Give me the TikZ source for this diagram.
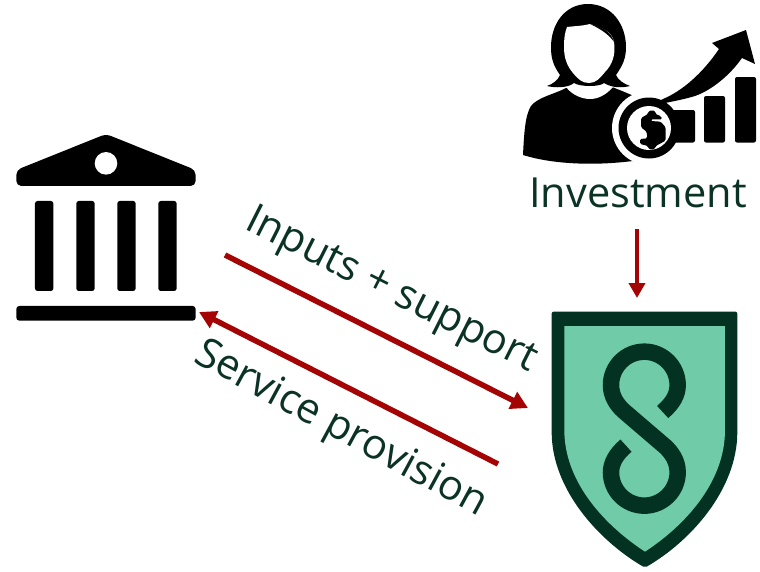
\documentclass[tikz,border=0pt]{standalone}
\usepackage{fontspec}
\setmainfont{Open Sans}
\usetikzlibrary{arrows.meta}
\definecolor{darkgreen}{HTML}{033222}
\definecolor{lightgreen}{HTML}{70CBA8}
\definecolor{arrowred}{HTML}{A50404}
\definecolor{labelgreen}{HTML}{0B3325}
\tikzset{
  icon/.style={fill=black,draw=none},
  hole/.style={fill=white,draw=none},
  flow/.style={draw=arrowred,line width=5.5pt,-{Triangle[length=17pt,width=18pt]},shorten >=0pt},
  drop/.style={draw=arrowred,line width=4pt,-{Triangle[length=15pt,width=16pt]}},
  lbl/.style={text=labelgreen,font=\fontsize{41.5}{41.5}\selectfont,inner sep=0pt,anchor=base west},
}
\begin{document}
\begin{tikzpicture}[x=1pt,y=-1pt]
\useasboundingbox (0,0) rectangle (760,571);
% --- bank
\begin{scope}[shift={(0pt,-120pt)},x=0.3333pt,y=-0.3333pt]
  \path[icon,rounded corners=5pt] (318,42) -- (587,150) -- (587,198) -- (49,198) -- (49,150) -- cycle;
  \path[hole] (318,130) circle[radius=11.3pt];
  \foreach \c in {105,229,352,475}
    \path[icon,rounded corners=2.5pt] (\c,243) rectangle ++(55,270);
  \path[icon,rounded corners=3pt] (49,558) rectangle (587,602);
\end{scope}
% --- person
\path[icon] (523,155) .. controls (524,135) and (525,115) .. (531,106)
  .. controls (538,97) and (555,94) .. (566,88)
  -- (590,90) -- (612,87) .. controls (622,91) and (630,94) .. (640,99)
  -- (640,160) .. controls (600,166) and (555,165) .. (523,155) -- cycle;
\path[hole] (566,87) .. controls (572,86) and (574,83) .. (576,82)
  .. controls (580,87) and (600,87) .. (604,82)
  .. controls (606,84) and (608,86) .. (613,87)
  .. controls (606,95) and (598,99) .. (590,99)
  .. controls (582,99) and (572,95) .. (566,87) -- cycle;
\path[icon] (588,4) .. controls (564,4) and (551,25) .. (551,47)
  .. controls (551,58) and (553,65) .. (560,75)
  .. controls (558,80) and (553,84) .. (547,86)
  .. controls (555,88) and (568,88) .. (574,83)
  .. controls (580,87) and (600,87) .. (604,83)
  .. controls (612,88) and (622,88) .. (630,86)
  .. controls (624,84) and (618,80) .. (616,75)
  .. controls (623,65) and (626,58) .. (626,47)
  .. controls (626,25) and (612,4) .. (588,4) -- cycle;
\path[hole] (567,27) .. controls (575,26) and (583,26) .. (590,24)
  .. controls (600,28) and (612,30) .. (614,42)
  .. controls (616,55) and (612,65) .. (605,72)
  .. controls (600,78) and (596,83) .. (589,83)
  .. controls (582,83) and (578,79) .. (573,73)
  .. controls (567,66) and (564,58) .. (564,47)
  .. controls (564,38) and (565,32) .. (567,27) -- cycle;
\path[icon] (590,24) .. controls (600,27) and (611,30) .. (614,42) .. controls (610,36) and (603,30) .. (590,24) -- cycle;
% --- coin halo, then bars and rising arrow
\path[hole] (649,128) circle[radius=37pt];
\path[icon,rounded corners=2pt] (665,110) rectangle (695,142.5);
\path[icon,rounded corners=2pt] (704,96) rectangle (725,142.5);
\path[icon,rounded corners=2pt] (735,77) rectangle (756,142.5);
\path[icon] (655,103) -- (663,99) .. controls (682,91) and (702,74) .. (719,49)
  -- (712,43) -- (746,30) -- (755,64) -- (742,58)
  .. controls (730,75) and (712,90) .. (695,96)
  .. controls (685,99) and (675,101) .. (665,103) -- cycle;
% --- coin
\path[icon] (649,128) circle[radius=30.5pt];
\path[hole] (649,128) circle[radius=22pt];
\begin{scope}[shift={(610pt,-90pt)},x=0.3333pt,y=-0.3333pt]
  \path[icon,rounded corners=1.5pt] (116,62) -- (136,62) -- (136,72) -- (152,78) -- (157,88) -- (122,88) -- (122,93) -- (152,95) -- (167,112) -- (167,152) -- (137,168) -- (134,178) -- (116,178) -- (114,168) -- (90,162) -- (90,147) -- (112,145) -- (110,125) -- (93,112) -- (93,84) -- (114,72) -- cycle;
\end{scope}
% --- shield
\begin{scope}[shift={(530pt,-300pt)},x=0.3333pt,y=-0.3333pt]
  \path[fill=darkgreen,rounded corners=2pt] (65,35) -- (622,35) -- (622,390) .. controls (622,570) and (480,725) .. (345,803) .. controls (210,725) and (65,570) .. (65,390) -- cycle;
  \path[fill=lightgreen] (103,78) -- (585,78) -- (585,390) .. controls (585,550) and (460,680) .. (345,755) .. controls (230,680) and (103,550) .. (103,390) -- cycle;
  \draw[darkgreen,line width=16.5pt] (398,336) .. controls (428,310) and (443,285) .. (443,255)
    .. controls (443,200) and (398,155) .. (343,155)
    .. controls (288,155) and (243,200) .. (243,255)
    .. controls (243,290) and (262,315) .. (280,332)
    -- (406,440) .. controls (424,457) and (443,482) .. (443,517)
    .. controls (443,572) and (398,617) .. (343,617)
    .. controls (288,617) and (243,572) .. (243,517)
    .. controls (243,490) and (258,462) .. (288,437);
\end{scope}
% --- labels
\node[lbl] (invest) at (529,207) {Investment};
\node[lbl,rotate=-26.7] (inputs) at (243,228) {Inputs + support};
\node[lbl,rotate=-28.5] (service) at (192,361) {Service provision};
% --- connectors
\coordinate (bankin) at (199,312);
\coordinate (bankout) at (225,255);
\coordinate (shieldin) at (528,408);
\coordinate (shieldout) at (498,464);
\coordinate (investout) at (637,229);
\coordinate (shieldtop) at (637,298);
\draw[flow] (bankout) -- (shieldin);
\draw[flow] (shieldout) -- (bankin);
\draw[drop] (investout) -- (shieldtop);
\end{tikzpicture}
\end{document}
